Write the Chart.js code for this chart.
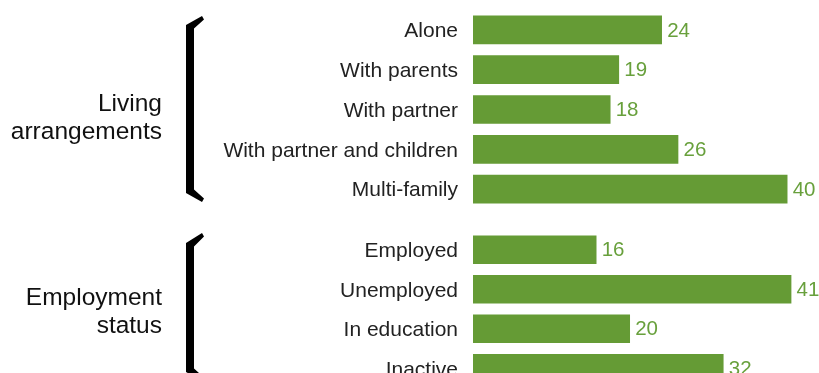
<!DOCTYPE html>
<html>
<head>
<meta charset="utf-8">
<script src="https://cdn.jsdelivr.net/npm/chart.js@4/dist/chart.umd.min.js"></script>
<style>
  html, body { margin: 0; padding: 0; background: #ffffff; overflow: hidden; width: 819px; height: 373px; }
  #wrap { position: relative; width: 819px; height: 373px; overflow: hidden; }
  canvas { position: absolute; left: 0; }
  .group { position: absolute; left: 0; width: 162px; text-align: right;
           font-family: "Liberation Sans", Arial, sans-serif; font-size: 24.5px; line-height: 28px; color: #111; }
</style>
</head>
<body>
<div id="wrap">
  <canvas id="c1" width="819" height="210" style="top:0px;width:819px;height:210px"></canvas>
  <canvas id="c2" width="819" height="190" style="top:210px;width:819px;height:190px"></canvas>
  <div class="group" id="g1" style="top:89px"></div>
  <div class="group" id="g2" style="top:283px"></div>
</div>
<script>
// ---- data ----
const livingLabels = ['Alone', 'With parents', 'With partner', 'With partner and children', 'Multi-family'];
const livingValues = [24.2, 18.7, 17.6, 26.3, 40.3];
const employmentLabels = ['Employed', 'Unemployed', 'In education', 'Inactive'];
const employmentValues = [15.8, 40.8, 20.1, 32.1];
const groupTitleLiving = ['Living', 'arrangements'];
const groupTitleEmployment = ['Employment', 'status'];
const xMin = 0;
const xMax = 44;

// ---- styles ----
const BAR_COLOR = '#659b35';
const VALUE_COLOR = '#68a03c';
const FONT = '"Liberation Sans", Arial, sans-serif';

document.getElementById('g1').innerHTML = groupTitleLiving.join('<br>');
document.getElementById('g2').innerHTML = groupTitleEmployment.join('<br>');

const valueLabels = {
  id: 'valueLabels',
  afterDatasetsDraw(chart) {
    const ctx = chart.ctx;
    ctx.save();
    ctx.font = '20.5px ' + FONT;
    ctx.fillStyle = VALUE_COLOR;
    ctx.textAlign = 'left';
    ctx.textBaseline = 'middle';
    chart.getDatasetMeta(0).data.forEach((el, i) => {
      const v = chart.data.datasets[0].data[i];
      ctx.fillText(String(Math.round(v)), el.x + 5.5, el.y + 1);
    });
    ctx.restore();
  }
};

const brace = {
  id: 'brace',
  afterDraw(chart, args, opts) {
    const ctx = chart.ctx;
    const a = chart.chartArea;
    const L = a.left;
    const xo = L - 287, xi = L - 279, xt = L - 270;
    const t = a.top + opts.tipTop, c = a.top + opts.cornerTop;
    const b = a.bottom - 8, cb = a.bottom - 16;
    ctx.save();
    ctx.fillStyle = '#000';
    ctx.beginPath();
    ctx.moveTo(xo, c);
    ctx.lineTo(xt - 1, t - 1);
    ctx.lineTo(xt + 1, t + 2.5);
    ctx.lineTo(xi, c + 3.5);
    ctx.lineTo(xi, cb - 3.5);
    ctx.lineTo(xt + 1, b - 2.5);
    ctx.lineTo(xt - 1, b + 1);
    ctx.lineTo(xo, cb);
    ctx.closePath();
    ctx.fill();
    ctx.restore();
  }
};

function makeChart(id, labels, values, padTop, padBottom, tipTop, cornerTop) {
  return new Chart(document.getElementById(id), {
    type: 'bar',
    data: {
      labels: labels,
      datasets: [{ data: values, backgroundColor: BAR_COLOR, borderWidth: 0, barThickness: 28 }]
    },
    options: {
      indexAxis: 'y',
      responsive: false,
      animation: false,
      devicePixelRatio: 1,
      layout: { padding: { top: padTop, bottom: padBottom, left: 0, right: 3 } },
      plugins: { legend: { display: false }, tooltip: { enabled: false }, brace: { tipTop: tipTop, cornerTop: cornerTop } },
      scales: {
        x: { display: false, min: xMin, max: xMax },
        y: {
          grid: { display: false, drawTicks: false },
          border: { display: false },
          ticks: { color: '#222', font: { family: FONT, size: 21 }, padding: 15, labelOffset: 1.5 },
          afterFit(scale) { scale.width = 473; scale.paddingTop = 0; scale.paddingBottom = 0; }
        }
      }
    },
    plugins: [valueLabels, brace]
  });
}

makeChart('c1', livingLabels, livingValues, 10, 1, 7, 15);
makeChart('c2', employmentLabels, employmentValues, 20, 12, 4, 13);
</script>
</body>
</html>
